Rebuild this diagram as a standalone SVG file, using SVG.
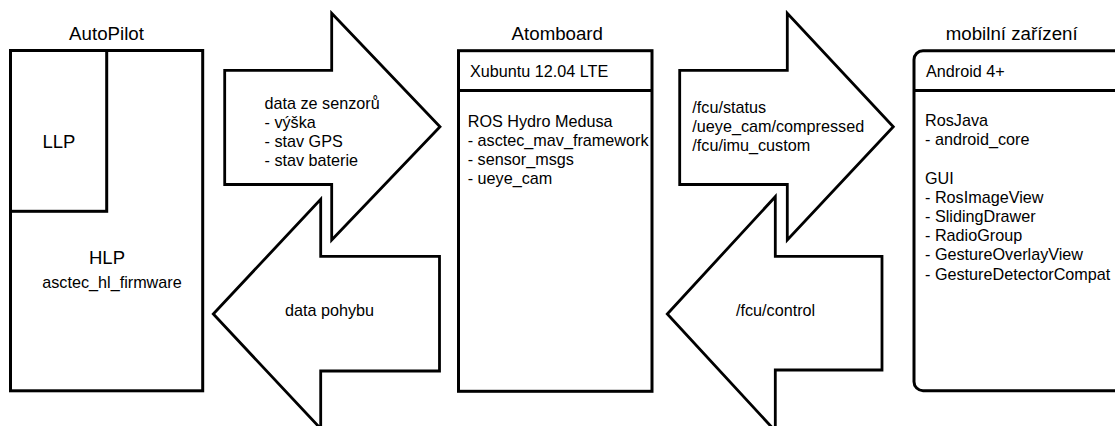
<svg xmlns="http://www.w3.org/2000/svg" width="1115" height="426" viewBox="0 0 1115 426">
<style>
.box{fill:#fff;stroke:#000;stroke-width:3}
.arrow{fill:#fff;stroke:#000;stroke-width:2.8;stroke-linejoin:miter;stroke-miterlimit:10}
.div{stroke:#000;stroke-width:3}
text{font-family:"Liberation Sans",Arial,sans-serif;fill:#000}
.title{font-size:18.7px;text-anchor:middle}
.big{font-size:18.5px;text-anchor:middle}
.body{font-size:16.2px}
.mid{text-anchor:middle}
</style>
<rect width="1115" height="426" fill="#fff"/>
<g id="connectors">
  <g id="arrow-sensors">
    <polygon class="arrow" points="224.7,70.3 331.7,70.3 331.7,13.3 440,126.7 331.7,240 331.7,184.5 224.7,184.5"/>
    <text class="body" x="264.5" y="109">data ze senzorů</text>
    <text class="body" x="264.5" y="128">- výška</text>
    <text class="body" x="264.5" y="147">- stav GPS</text>
    <text class="body" x="264.5" y="166">- stav baterie</text>
  </g>
  <g id="arrow-motion">
    <polygon class="arrow" points="213.3,314 320.7,199.3 320.7,256.3 439.5,256.3 439.5,371 320.7,371 320.7,428.7"/>
    <text class="body" x="285" y="316">data pohybu</text>
  </g>
  <g id="arrow-topics">
    <polygon class="arrow" points="679.7,70.3 787.3,70.3 787.3,13.3 893.3,126.7 787.3,240 787.3,184.5 679.7,184.5"/>
    <text class="body" x="692.3" y="112.5">/fcu/status</text>
    <text class="body" x="692.3" y="131.5">/ueye_cam/compressed</text>
    <text class="body" x="692.3" y="150.5">/fcu/imu_custom</text>
  </g>
  <g id="arrow-control">
    <polygon class="arrow" points="667.3,314 775.3,196.7 775.3,256.3 882,256.3 882,370 775.3,370 775.3,431"/>
    <text class="body" x="736" y="316">/fcu/control</text>
  </g>
</g>
<g id="autopilot">
  <text class="title" x="106.5" y="40">AutoPilot</text>
  <rect class="box" x="10.5" y="50.5" width="192.2" height="340.3"/>
  <rect class="box" x="10.5" y="50.5" width="96.2" height="160.8"/>
  <text class="big" x="59" y="147.7">LLP</text>
  <text class="big" x="107" y="264.3">HLP</text>
  <text class="body mid" x="112" y="288.3">asctec_hl_firmware</text>
</g>
<g id="atomboard">
  <text class="title" x="557.3" y="40">Atomboard</text>
  <rect class="box" x="458.5" y="50.7" width="193.5" height="340.6"/>
  <line class="div" x1="458.5" y1="90.4" x2="652" y2="90.4"/>
  <text class="body" x="470" y="76.7">Xubuntu 12.04 LTE</text>
  <text class="body" x="467.7" y="127">ROS Hydro Medusa</text>
  <text class="body" x="467.7" y="146.1">- asctec_mav_framework</text>
  <text class="body" x="467.7" y="165.2">- sensor_msgs</text>
  <text class="body" x="467.7" y="184.3">- ueye_cam</text>
</g>
<g id="mobile">
  <text class="title" x="1011.7" y="40">mobilní zařízení</text>
  <rect class="box" x="914" y="50.7" width="230" height="340" rx="9" ry="9"/>
  <line class="div" x1="914" y1="90.4" x2="1115" y2="90.4"/>
  <text class="body" x="926" y="77.3">Android 4+</text>
  <text class="body" x="925" y="126">RosJava</text>
  <text class="body" x="925" y="145.2">- android_core</text>
  <text class="body" x="925" y="183.6">GUI</text>
  <text class="body" x="925" y="202.8">- RosImageView</text>
  <text class="body" x="925" y="222">- SlidingDrawer</text>
  <text class="body" x="925" y="241.2">- RadioGroup</text>
  <text class="body" x="925" y="260.4">- GestureOverlayView</text>
  <text class="body" x="925" y="279.6">- GestureDetectorCompat</text>
</g>
</svg>
